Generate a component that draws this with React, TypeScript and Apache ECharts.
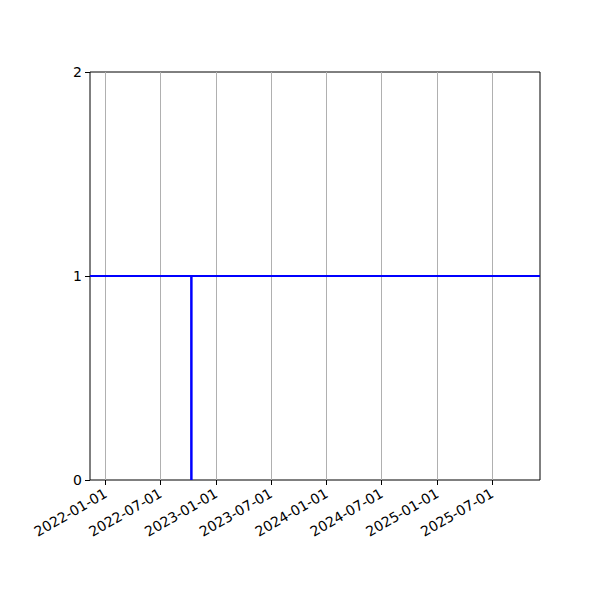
import React, { useEffect, useRef } from 'react';
import * as echarts from 'echarts';

const xStart = '2021-11-10';
const xEnd = '2025-12-06';
const tickDates = [
  '2022-01-01', '2022-07-01', '2023-01-01', '2023-07-01',
  '2024-01-01', '2024-07-01', '2025-01-01', '2025-07-01',
];
const yTicks = [0, 1, 2];
const levelValue = 1;
const stepDate = '2022-10-11';
const stepValues = [0, 1];

const ms = (d: string) => new Date(d + 'T00:00:00Z').getTime();
const pad = (n: number) => (n < 10 ? '0' + n : '' + n);
const fmt = (v: number) => {
  const d = new Date(v);
  return `${d.getUTCFullYear()}-${pad(d.getUTCMonth() + 1)}-${pad(d.getUTCDate())}`;
};

const App: React.FC = () => {
  const chartRef = useRef<HTMLDivElement | null>(null);

  useEffect(() => {
    if (!chartRef.current) return;
    const chart = echarts.init(chartRef.current, undefined, { renderer: 'svg' });
    const tickMs = tickDates.map(ms);

    chart.setOption({
      animation: false,
      textStyle: { fontFamily: 'DejaVu Sans' },
      grid: {
        left: 90, right: 60, top: 72, bottom: 120,
        show: true, borderColor: '#000', borderWidth: 1,
      },
      xAxis: {
        type: 'value',
        min: ms(xStart),
        max: ms(xEnd),
        axisLine: { show: false },
        axisTick: { show: true, customValues: tickMs, length: 5, lineStyle: { color: '#000' } },
        axisLabel: {
          customValues: tickMs,
          formatter: (v: number) => fmt(v),
          rotate: 30,
          fontSize: 14,
          color: '#000',
          margin: 12,
        },
        splitLine: { show: false },
      },
      yAxis: {
        type: 'value',
        min: 0,
        max: 2,
        interval: 1,
        axisLine: { show: false },
        axisTick: { show: true, length: 5, lineStyle: { color: '#000' } },
        axisLabel: {
          fontSize: 14, color: '#000', margin: 8,
          formatter: (v: number) => (yTicks.includes(v) ? String(v) : ''),
        },
        splitLine: { show: false },
      },
      series: [
        {
          type: 'line',
          data: [],
          silent: true,
          markLine: {
            symbol: 'none',
            silent: true,
            label: { show: false },
            lineStyle: { color: '#b0b0b0', width: 1, type: 'solid' },
            data: tickMs.map((t) => ({ xAxis: t })),
          },
        },
        {
          type: 'line',
          data: [],
          silent: true,
          z: 3,
          markLine: {
            symbol: 'none',
            silent: true,
            label: { show: false },
            lineStyle: { color: '#0000ff', width: 2, type: 'solid' },
            data: [{ yAxis: levelValue }],
          },
        },
        {
          type: 'line',
          z: 3,
          symbol: 'none',
          lineStyle: { color: '#0000ff', width: 2.5 },
          data: stepValues.map((v) => [ms(stepDate), v]),
        },
      ],
    });

    return () => chart.dispose();
  }, []);

  return <div ref={chartRef} style={{ width: 600, height: 600, margin: -8 }} />;
};

export default App;
